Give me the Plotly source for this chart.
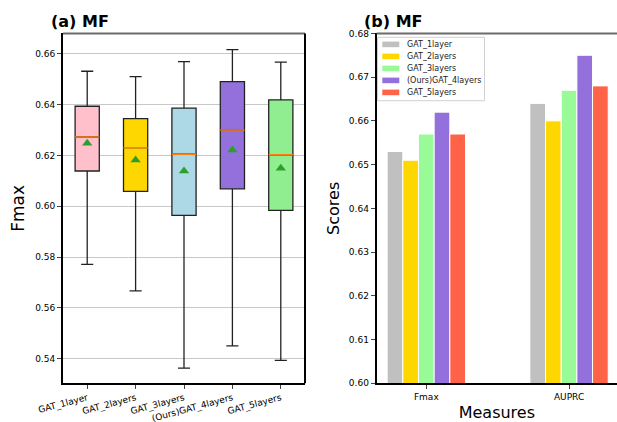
import plotly.graph_objects as go

# ---------------- data ----------------
models = ["GAT_1layer", "GAT_2layers", "GAT_3layers", "(Ours)GAT_4layers", "GAT_5layers"]
box_upper = [0.6532, 0.6511, 0.6570, 0.6617, 0.6568]
box_q3 = [0.6394, 0.6345, 0.6387, 0.6491, 0.6419]
box_median = [0.6273, 0.6231, 0.6205, 0.6301, 0.6203]
box_mean = [0.6248, 0.6182, 0.6139, 0.6222, 0.6150]
box_q1 = [0.6139, 0.6059, 0.5964, 0.6069, 0.5984]
box_lower = [0.5771, 0.5667, 0.5363, 0.5450, 0.5393]
box_colors = ["pink", "gold", "lightblue", "mediumpurple", "lightgreen"]

measures = ["Fmax", "AUPRC"]
gat1_scores = [0.653, 0.664]
gat2_scores = [0.651, 0.660]
gat3_scores = [0.657, 0.667]
gat4_scores = [0.662, 0.675]
gat5_scores = [0.657, 0.668]
bar_series = [gat1_scores, gat2_scores, gat3_scores, gat4_scores, gat5_scores]
bar_names = ["GAT_1layer", "GAT_2layers", "GAT_3layers", "(Ours)GAT_4layers", "GAT_5layers"]
bar_colors = ["silver", "gold", "palegreen", "mediumpurple", "tomato"]

# ---------------- layout constants ----------------
W, H = 617, 422
FONT = "DejaVu Sans"


def px(x):
    return x / W


def py(y):
    return 1 - y / H


fig = go.Figure()

positions = list(range(1, len(models) + 1))
for i, name in enumerate(models):
    fig.add_trace(go.Box(
        x=[positions[i]], q1=[box_q1[i]], median=[box_median[i]], q3=[box_q3[i]],
        lowerfence=[box_lower[i]], upperfence=[box_upper[i]],
        width=0.5, whiskerwidth=0.5, fillcolor=box_colors[i],
        line=dict(color="#222222", width=1.3), boxpoints=False,
        name=name, showlegend=False, xaxis="x", yaxis="y", hoverinfo="skip",
    ))

# medians (orange lines)
mx, my = [], []
for p, m in zip(positions, box_median):
    mx += [p - 0.25, p + 0.25, None]
    my += [m, m, None]
fig.add_trace(go.Scatter(x=mx, y=my, mode="lines", line=dict(color="#ff7f0e", width=1.5),
                         showlegend=False, xaxis="x", yaxis="y", hoverinfo="skip"))
# means (green triangles)
fig.add_trace(go.Scatter(x=positions, y=box_mean, mode="markers",
                         marker=dict(symbol="triangle-up", color="#2ca02c", size=9),
                         showlegend=False, xaxis="x", yaxis="y", hoverinfo="skip"))

# bars
for name, vals, col in zip(bar_names, bar_series, bar_colors):
    fig.add_trace(go.Bar(x=measures, y=vals, name=name, marker=dict(color=col, line=dict(color="white", width=1)),
                         showlegend=False, xaxis="x2", yaxis="y2"))

y_dom = [py(383.3), py(33.4)]
fig.update_layout(
    width=W, height=H, margin=dict(l=0, r=0, t=0, b=0, autoexpand=False),
    paper_bgcolor="white", plot_bgcolor="white",
    font=dict(family=FONT, color="black", size=9),
    barmode="group", bargap=0.451, bargroupgap=0.0,
    xaxis=dict(domain=[px(63), px(305)], range=[0.5, 5.5], tickvals=positions, ticktext=models,
               tickangle=-15, ticks="outside", ticklen=4, tickwidth=1, tickfont=dict(size=9),
               showline=True, linecolor="black", linewidth=2, showgrid=False, zeroline=False,
               anchor="y", automargin=False),
    yaxis=dict(domain=y_dom, range=[0.5303, 0.6681], dtick=0.02, tick0=0.54, tickformat=".2f",
               ticks="outside", ticklen=4, tickwidth=1, tickfont=dict(size=9),
               showline=True, linecolor="black", linewidth=2, showgrid=True,
               gridcolor="#c8c8c8", gridwidth=1, zeroline=False, anchor="x", automargin=False,
               title=dict(text="Fmax", font=dict(size=17), standoff=6)),
    xaxis2=dict(domain=[px(376.7), 1.0], range=[-0.3476, 1.336], type="category",
                ticks="outside", ticklen=4, tickwidth=1, tickfont=dict(size=9),
                showline=True, linecolor="black", linewidth=2, showgrid=False, zeroline=False,
                anchor="y2", automargin=False,
                title=dict(text="Measures", font=dict(size=16), standoff=6)),
    yaxis2=dict(domain=y_dom, range=[0.60, 0.68], dtick=0.01, tickformat=".2f",
                ticks="outside", ticklen=4, tickwidth=1, tickfont=dict(size=9),
                showline=True, linecolor="black", linewidth=2, showgrid=False, zeroline=False,
                anchor="x2", automargin=False,
                title=dict(text="Scores", font=dict(size=16), standoff=5)),
)

shapes = []
# top spines (grey) and right spine of left panel
shapes.append(dict(type="line", xref="x domain", yref="y domain", x0=0, x1=1, y0=1, y1=1,
                   line=dict(color="#6b6b6b", width=2)))
shapes.append(dict(type="line", xref="x domain", yref="y domain", x0=1, x1=1, y0=0, y1=1,
                   line=dict(color="black", width=2)))
shapes.append(dict(type="line", xref="x2 domain", yref="y2 domain", x0=0, x1=1, y0=1, y1=1,
                   line=dict(color="#6b6b6b", width=2)))

# manual legend
shapes.append(dict(type="rect", xref="paper", yref="paper", x0=px(377.5), x1=px(484.5),
                   y0=py(100.7), y1=py(37.3), line=dict(color="#d0d0d0", width=1),
                   fillcolor="rgba(255,255,255,0.85)", layer="above"))
annotations = []
for k, (name, col) in enumerate(zip(bar_names, bar_colors)):
    yc = 44.4 + 12.0 * k
    shapes.append(dict(type="rect", xref="paper", yref="paper", x0=px(382.3), x1=px(399.3),
                       y0=py(yc + 2.8), y1=py(yc - 2.8), line=dict(width=0), fillcolor=col,
                       layer="above"))
    annotations.append(dict(text=name, xref="paper", yref="paper", x=px(405), y=py(yc),
                            xanchor="left", yanchor="middle", showarrow=False,
                            font=dict(size=8, family=FONT, color="#222222")))

annotations.append(dict(text="<b>(a) MF</b>", xref="paper", yref="paper", x=px(48.5), y=py(21),
                        xanchor="left", yanchor="middle", showarrow=False,
                        font=dict(size=16, family=FONT, color="black")))
annotations.append(dict(text="<b>(b) MF</b>", xref="paper", yref="paper", x=px(361.5), y=py(21),
                        xanchor="left", yanchor="middle", showarrow=False,
                        font=dict(size=16, family=FONT, color="black")))

fig.update_layout(shapes=shapes, annotations=annotations)
fig.write_html("out.html", config={"displayModeBar": False},
               post_script="document.body.style.margin='0px';document.body.style.overflow='hidden';")
